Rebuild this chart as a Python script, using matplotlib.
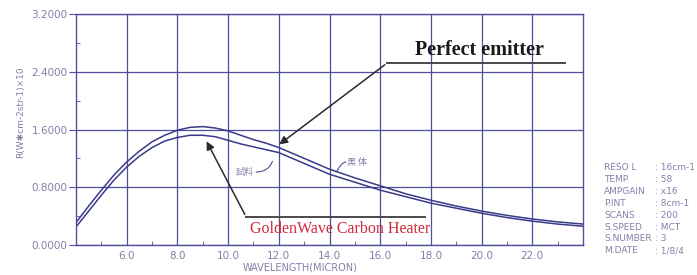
import matplotlib

matplotlib.use("Agg")
import matplotlib.pyplot as plt  # noqa: E402
from matplotlib.ticker import MultipleLocator  # noqa: E402

# wavelength (micron) and radiance
wavelength = [4.0, 4.5, 5.0, 5.5, 6.0, 6.5, 7.0, 7.5, 8.0, 8.5, 9.0, 9.5, 10.0, 10.5, 11.0,
              11.5, 12.0, 13.0, 14.0, 15.0, 16.0, 17.0, 18.0, 19.0, 20.0, 21.0, 22.0, 23.0, 24.0]
blackbody = [0.31, 0.54, 0.76, 0.97, 1.15, 1.30, 1.43, 1.52, 1.59, 1.63, 1.64, 1.62, 1.58, 1.52, 1.46,
             1.41, 1.35, 1.20, 1.05, 0.93, 0.82, 0.71, 0.62, 0.54, 0.47, 0.41, 0.36, 0.32, 0.29]
sample = [0.25, 0.47, 0.69, 0.90, 1.08, 1.23, 1.35, 1.44, 1.49, 1.52, 1.52, 1.50, 1.45, 1.40, 1.36,
          1.32, 1.28, 1.13, 0.98, 0.87, 0.76, 0.67, 0.58, 0.51, 0.44, 0.38, 0.33, 0.29, 0.26]

x_ticks = [6.0, 8.0, 10.0, 12.0, 14.0, 16.0, 18.0, 20.0, 22.0]
y_ticks = [0.0, 0.8, 1.6, 2.4, 3.2]

info_keys = ["RESO L", "TEMP", "AMPGAIN", "P.INT", "SCANS", "S.SPEED", "S.NUMBER", "M.DATE"]
info_vals = [": 16cm-1", ": 58", ": x16", ": 8cm-1", ": 200", ": MCT", ": 3", ": 1/8/4"]

GRID = "#4f4f9e"
LINE = "#3a3a8a"
TXT = "#8080aa"

fig = plt.figure(figsize=(6.97, 2.75), dpi=100)
ax = fig.add_axes([76 / 697, 1 - 245 / 275, (583 - 76) / 697, (245 - 14) / 275])

ax.plot(wavelength, blackbody, color=LINE, lw=1.1)
ax.plot(wavelength, sample, color=LINE, lw=1.1)

ax.set_xlim(4, 24)
ax.set_ylim(0, 3.2)
ax.set_xticks(x_ticks)
ax.set_xticklabels([f"{v:.1f}" for v in x_ticks])
ax.set_yticks(y_ticks)
ax.set_yticklabels([f"{v:.4f}" for v in y_ticks])
ax.xaxis.set_minor_locator(MultipleLocator(1.0))
ax.yaxis.set_minor_locator(MultipleLocator(0.4))
ax.grid(True, which="major", color=GRID, lw=0.9)
for s in ax.spines.values():
    s.set_color(GRID)
    s.set_linewidth(1.0)
ax.tick_params(axis="y", which="major", direction="out", length=5, color=GRID,
               labelcolor=TXT, labelsize=7.5, pad=1)
ax.tick_params(axis="x", which="major", length=0, labelcolor=TXT, labelsize=7.5, pad=4)
ax.tick_params(which="minor", direction="in", length=3, color=GRID)

fig.text(0.029, 1 - 112 / 275, "R(W\u2731cm-2str-1)\u00d710", rotation=90,
         ha="center", va="center", color=TXT, fontsize=6.5)
fig.text(300 / 697, 1 - 267 / 275, "WAVELENGTH(MICRON)", ha="center", va="center",
         color=TXT, fontsize=7)

# instrument settings block
for i, (k, v) in enumerate(zip(info_keys, info_vals)):
    yy = 1 - (168 + i * 11.8) / 275
    fig.text(604 / 697, yy, k, ha="left", va="center", color=TXT, fontsize=6.5)
    fig.text(655 / 697, yy, v, ha="left", va="center", color=TXT, fontsize=6.5)

# callouts
arrow = dict(arrowstyle="-|>", color="#2a2a2a", lw=1.1, mutation_scale=12)
ax.annotate("", xy=(11.93, 1.37), xytext=(16.27, 2.52), arrowprops=arrow)
ax.plot([16.27, 23.29], [2.52, 2.52], color="#4a4a4a", lw=1.4)
ax.text(19.9, 2.56, "Perfect emitter", ha="center", va="bottom", fontsize=14.5,
        family="Liberation Serif", fontweight="bold", color="#1a1a1a")

ax.annotate("", xy=(9.1, 1.47), xytext=(10.71, 0.39), arrowprops=arrow)
ax.plot([10.71, 17.77], [0.39, 0.39], color="#4a4a4a", lw=1.4)
ax.text(14.41, 0.22, "GoldenWave Carbon Heater", ha="center", va="center", fontsize=11.5,
        family="Liberation Serif", color="#d02a3a")

cjk = ["Noto Sans CJK JP", "DejaVu Sans"]
ax.text(10.65, 1.01, "試料", ha="center", va="center", fontsize=6.5, family=cjk, color=TXT)
ax.annotate("", xy=(11.75, 1.16), xytext=(11.1, 1.01),
            arrowprops=dict(arrowstyle="-", color=LINE, lw=0.7, shrinkA=0, shrinkB=0,
                            connectionstyle="angle3,angleA=0,angleB=70"))
ax.text(15.1, 1.14, "黒 体", ha="center", va="center", fontsize=6.5, family=cjk, color=TXT)
ax.annotate("", xy=(14.3, 1.03), xytext=(14.65, 1.15),
            arrowprops=dict(arrowstyle="-", color=LINE, lw=0.7, shrinkA=0, shrinkB=0,
                            connectionstyle="angle3,angleA=0,angleB=60"))

fig.savefig("out.png", dpi=100)
